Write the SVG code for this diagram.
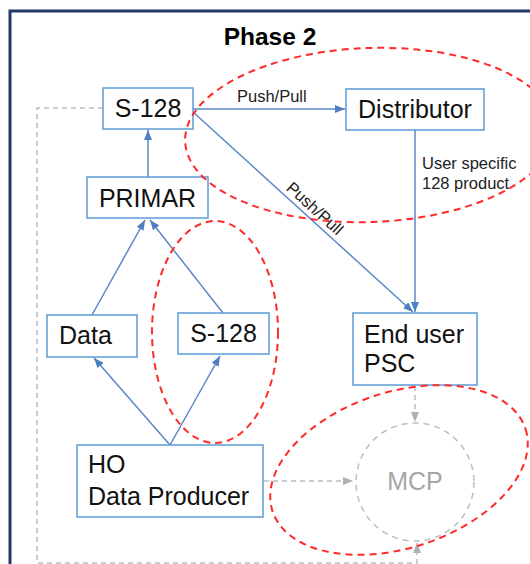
<svg xmlns="http://www.w3.org/2000/svg" width="530" height="564" viewBox="0 0 530 564">
<defs>
<style>
.box{fill:#ffffff;stroke:#5b9bd5;stroke-width:1.5}
.lbl{font-family:"Liberation Sans",Arial,sans-serif;font-size:25px;fill:#111111}
.sm{font-family:"Liberation Sans",Arial,sans-serif;font-size:16.5px;fill:#222222}
.conn{stroke:#5a88c6;stroke-width:1.5;fill:none}
.gconn{stroke:#bdbdbd;stroke-width:1.5;fill:none;stroke-dasharray:5 4}
.red{fill:none;stroke:#ff2a2a;stroke-width:2;stroke-dasharray:7 5}
</style>
<marker id="ab" markerWidth="10" markerHeight="8" refX="10" refY="4" orient="auto" markerUnits="userSpaceOnUse">
<path d="M0,0 L10,4 L0,8 Z" fill="#4f7fc0"/>
</marker>
<marker id="ag" markerWidth="10" markerHeight="8" refX="10" refY="4" orient="auto" markerUnits="userSpaceOnUse">
<path d="M0,0 L10,4 L0,8 Z" fill="#b0b0b0"/>
</marker>
</defs>
<rect width="530" height="564" fill="#ffffff"/>
<path d="M10,600 V11 H600" fill="none" stroke="#203864" stroke-width="3"/>
<text x="270" y="45" text-anchor="middle" font-family="'Liberation Sans',Arial,sans-serif" font-size="24.5" font-weight="bold" fill="#000">Phase 2</text>

<g id="connectors">
<path class="gconn" d="M103,108 H37 V563 H417 V543" marker-end="url(#ag)"/>
<line class="conn" x1="148" y1="177" x2="148" y2="130" marker-end="url(#ab)"/>
<line class="conn" x1="193" y1="109" x2="345" y2="109" marker-end="url(#ab)"/>
<line class="conn" x1="193" y1="112" x2="413" y2="312" marker-end="url(#ab)"/>
<line class="conn" x1="415" y1="130" x2="415" y2="312" marker-end="url(#ab)"/>
<line class="conn" x1="92" y1="315" x2="145" y2="220" marker-end="url(#ab)"/>
<line class="conn" x1="223" y1="313" x2="150" y2="220" marker-end="url(#ab)"/>
<line class="conn" x1="170" y1="445" x2="94" y2="358" marker-end="url(#ab)"/>
<line class="conn" x1="170" y1="445" x2="220" y2="356" marker-end="url(#ab)"/>
<line class="gconn" x1="415" y1="386" x2="415" y2="422" marker-end="url(#ag)"/>
<line class="gconn" x1="264" y1="481" x2="353" y2="481" marker-end="url(#ag)"/>
<text class="sm" x="237" y="102">Push/Pull</text>
<text class="sm" transform="translate(307.7,216.3) rotate(42.3)" x="0" y="-5" text-anchor="middle">Push/Pull</text>
<text class="sm" x="422" y="169">User specific</text>
<text class="sm" x="422" y="189">128 product</text>
</g>

<g id="s128-top">
<rect class="box" x="103" y="88" width="90" height="41"/>
<text class="lbl" x="148" y="117" text-anchor="middle">S-128</text>
</g>
<g id="primar">
<rect class="box" x="87" y="177" width="121" height="41"/>
<text class="lbl" x="147.5" y="207" text-anchor="middle">PRIMAR</text>
</g>
<g id="distributor">
<rect class="box" x="346" y="89" width="138" height="41"/>
<text class="lbl" x="415" y="118" text-anchor="middle">Distributor</text>
</g>
<g id="data">
<rect class="box" x="47" y="315" width="90" height="42"/>
<text class="lbl" x="59" y="344">Data</text>
</g>
<g id="s128-mid">
<rect class="box" x="178" y="313" width="91" height="41"/>
<text class="lbl" x="223.5" y="342" text-anchor="middle">S-128</text>
</g>
<g id="end-user">
<rect class="box" x="353" y="313" width="124" height="72"/>
<text class="lbl" x="364" y="343">End user</text>
<text class="lbl" x="364" y="372">PSC</text>
</g>
<g id="ho">
<rect class="box" x="77" y="445" width="186" height="72"/>
<text class="lbl" x="88" y="473">HO</text>
<text class="lbl" x="88" y="505">Data Producer</text>
</g>
<g id="mcp">
<circle cx="415" cy="482" r="59" fill="none" stroke="#bdbdbd" stroke-width="1.5" stroke-dasharray="6 5"/>
<text x="415" y="490" text-anchor="middle" font-family="'Liberation Sans',Arial,sans-serif" font-size="25" fill="#a6a6a6">MCP</text>
</g>

<g id="highlights">
<ellipse class="red" cx="370" cy="135" rx="185" ry="87" transform="rotate(-2 370 135)"/>
<ellipse class="red" cx="215" cy="332" rx="63" ry="111"/>
<ellipse class="red" cx="399" cy="470" rx="133" ry="78" transform="rotate(-18 399 470)"/>
</g>
</svg>
